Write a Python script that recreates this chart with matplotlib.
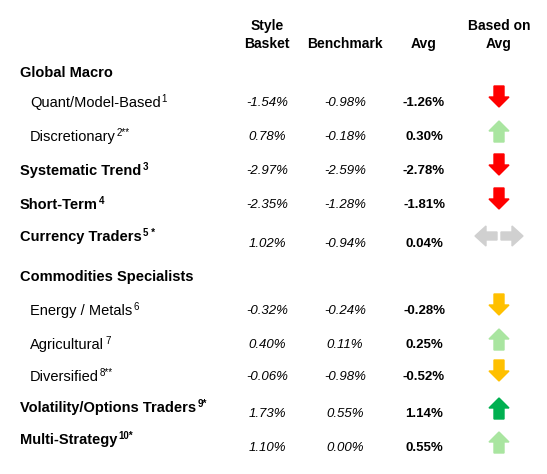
import matplotlib
matplotlib.use("Agg")
import matplotlib.pyplot as plt
from matplotlib.patches import Polygon

plt.rcParams['font.family'] = ['Liberation Sans', 'DejaVu Sans']

# rows: label, superscript suffix, bold, indent
labels = ['Global Macro', 'Quant/Model-Based', 'Discretionary', 'Systematic Trend', 'Short-Term',
          'Currency Traders', 'Commodities Specialists', 'Energy / Metals', 'Agricultural',
          'Diversified', 'Volatility/Options Traders', 'Multi-Strategy']
supers = ['', '1', '2**', '3', '4', '5 *', '', '6', '7', '8**', '9*', '10*']
is_header = [True, False, False, True, True, True, True, False, False, False, True, True]
style_basket = [None, -1.54, 0.78, -2.97, -2.35, 1.02, None, -0.32, 0.40, -0.06, 1.73, 1.10]
benchmark = [None, -0.98, -0.18, -2.59, -1.28, -0.94, None, -0.24, 0.11, -0.98, 0.55, 0.00]
avg = [None, -1.26, 0.30, -2.78, -1.81, 0.04, None, -0.28, 0.25, -0.52, 1.14, 0.55]
signal = [None, 'down', 'up', 'down', 'down', 'flat', None, 'down', 'up', 'down', 'up', 'up']
signal_color = [None, '#FF0000', '#A9E5A0', '#FF0000', '#FF0000', '#D0D0D0', None,
                '#FFC000', '#A9E5A0', '#FFC000', '#00B050', '#A9E5A0']

label_y = [73, 103, 137, 171, 205, 237, 277, 311, 345, 377, 408, 440]
value_y = [73, 103, 137, 171, 205, 244, 277, 311, 345, 377, 414, 448]

fig = plt.figure(figsize=(5.47, 4.74), dpi=100)
ax = fig.add_axes([0, 0, 1, 1])
ax.set_xlim(0, 547)
ax.set_ylim(474, 0)
ax.axis('off')
renderer = fig.canvas.get_renderer()

fs = 10
for x, txt in [(267, 'Style\nBasket'), (345, '\nBenchmark'), (424, '\nAvg'), (499, 'Based on\nAvg')]:
    ax.text(x, 35, txt, ha='center', va='center', fontsize=fs, fontweight='bold', linespacing=1.45)


def arrow(cx, cy, kind, color):
    if kind == 'down':
        pts = [(cx - 5, cy - 11), (cx + 5, cy - 11), (cx + 5, cy), (cx + 10, cy), (cx, cy + 10),
               (cx - 10, cy), (cx - 5, cy)]
        ax.add_patch(Polygon(pts, closed=True, color=color))
    elif kind == 'up':
        pts = [(cx - 5, cy + 11), (cx + 5, cy + 11), (cx + 5, cy), (cx + 10, cy), (cx, cy - 10),
               (cx - 10, cy), (cx - 5, cy)]
        ax.add_patch(Polygon(pts, closed=True, color=color))
    else:
        for s in (-1, 1):
            x0 = cx + s * 2
            pts = [(x0, cy - 4), (x0 + s * 11, cy - 4), (x0 + s * 11, cy - 10), (x0 + s * 22, cy),
                   (x0 + s * 11, cy + 10), (x0 + s * 11, cy + 4), (x0, cy + 4)]
            ax.add_patch(Polygon(pts, closed=True, color=color))


for i, lab in enumerate(labels):
    x = 20 if is_header[i] else 30
    weight = 'bold' if is_header[i] else 'normal'
    t = ax.text(x, label_y[i], lab, ha='left', va='center', fontsize=fs + 0.5, fontweight=weight)
    if supers[i]:
        bb = t.get_window_extent(renderer)
        # axes pixel coords == data coords here (y inverted)
        x_end = bb.x1
        ax.text(x_end + 1, label_y[i] - 4, supers[i], ha='left', va='center',
                fontsize=fs - 3, fontweight='bold' if is_header[i] else 'normal')
    if style_basket[i] is None:
        continue
    y = value_y[i]
    ax.text(267, y, f'{style_basket[i]:.2f}%', ha='center', va='center', fontsize=fs - 0.5, style='italic')
    ax.text(345, y, f'{benchmark[i]:.2f}%', ha='center', va='center', fontsize=fs - 0.5, style='italic')
    ax.text(424, y, f'{avg[i]:.2f}%', ha='center', va='center', fontsize=fs - 0.5, fontweight='bold')
    arrow(499, value_y[i] - 6 if signal[i] != 'flat' else value_y[i] - 8, signal[i], signal_color[i])

fig.savefig('out.png', dpi=100)
